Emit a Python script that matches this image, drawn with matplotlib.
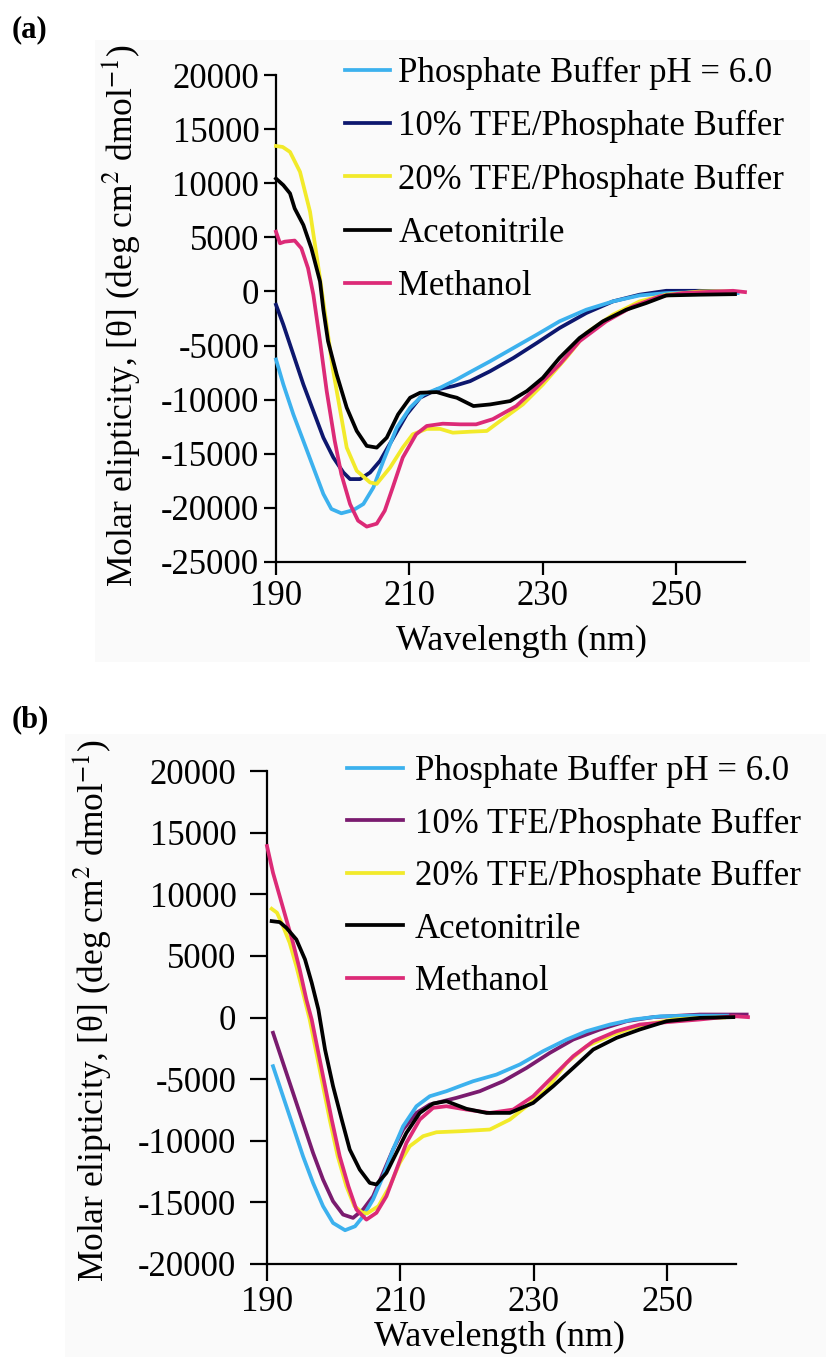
import matplotlib
matplotlib.use("Agg")
import matplotlib.pyplot as plt
from matplotlib.patches import Rectangle

plt.rcParams['font.family'] = ['Liberation Serif', 'DejaVu Serif']
plt.rcParams['mathtext.fontset'] = 'stix'
plt.rcParams['axes.unicode_minus'] = False

# ---------------- panel (a) data ----------------
wl_a_buffer = [190, 191.1, 192.6, 194.1, 195.6, 197.1, 198.3, 199.8, 201.6, 203.1, 204.6, 206.1,
               208.1, 210.1, 212.1, 214.6, 217.1, 219.1, 222.1, 225.6, 229.1, 232.5, 236.5, 240.5,
               244.5, 248.5, 253.5, 259.2]
cd_a_buffer = [-6290, -8590, -11360, -13810, -16270, -18720, -20100, -20500, -20200, -19640, -18110,
               -15650, -12590, -10740, -9520, -8900, -8130, -7450, -6450, -5220, -3990, -2760, -1690,
               -920, -370, -150, -60, -150]

wl_a_tfe10 = [190, 191.1, 192.6, 194.1, 195.6, 197.1, 198.6, 200.1, 201.1, 202.6, 204.1, 205.6,
              207.6, 209.6, 211.6, 214.1, 216.6, 219.1, 222.1, 225.6, 229.1, 232.5, 236.5, 240.5,
              244.5, 248.5, 253.5, 259]
cd_a_tfe10 = [-1230, -3070, -5830, -8590, -11050, -13510, -15350, -16730, -17340, -17340, -16730,
              -15650, -13510, -11360, -9820, -9060, -8750, -8290, -7370, -6140, -4760, -3380, -2000,
              -920, -300, 60, 60, -60]

wl_a_tfe20 = [190, 191.0, 192.1, 193.6, 195.1, 196.6, 198.5, 200.6, 202.1, 204.1, 205.1, 207.1,
              209.0, 210.5, 212.6, 214.6, 216.5, 219.1, 221.6, 223.6, 227.0, 230.0, 233.5, 236.5,
              240.5, 244.5, 248.5, 253.5, 258]
cd_a_tfe20 = [13440, 13350, 12890, 11050, 7370, 1200, -7090, -14430, -16570, -17650, -17780, -16270,
              -14430, -13200, -12700, -12700, -13050, -12960, -12890, -11970, -10440, -8600, -6140,
              -3840, -2150, -920, -300, 0, 0]

wl_a_acn = [190, 191.1, 192.1, 192.8, 194.1, 195.3, 196.6, 197.1, 197.8, 199.1, 200.6, 202.1, 203.6,
            205.1, 206.6, 208.3, 210.1, 211.6, 214.1, 216.1, 217.1, 219.6, 222.1, 225.1, 227.6, 230.0,
            232.5, 235.5, 239.0, 242.5, 245.5, 248.5, 253.5, 258.8]
cd_a_acn = [10430, 9820, 9060, 7670, 6140, 3990, 920, -1690, -4600, -7670, -10740, -12890, -14270,
            -14430, -13510, -11360, -9820, -9360, -9300, -9670, -9820, -10590, -10440, -10130, -9210,
            -7980, -6140, -4300, -2760, -1690, -1070, -370, -300, -250]

wl_a_meoh = [190, 190.6, 191.3, 192.8, 193.8, 194.8, 195.6, 196.6, 197.6, 198.8, 199.8, 201.1, 202.3,
             203.6, 205.1, 206.3, 207.5, 209.0, 211.0, 212.6, 215.0, 217.6, 220.0, 222.5, 226.0,
             229.0, 232.5, 235.5, 239.5, 243.5, 247.5, 251.0, 258.5, 260.3]
cd_a_meoh = [5520, 4450, 4600, 4700, 3990, 2150, -300, -4600, -9210, -13800, -16900, -19650, -21180,
             -21730, -21460, -20260, -18110, -15350, -13200, -12430, -12220, -12280, -12280, -11800,
             -10600, -8900, -6750, -4600, -2760, -1380, -460, -150, 60, -60]

# ---------------- panel (b) data ----------------
wl_b_buffer = [190.9, 192.4, 193.9, 195.4, 196.9, 198.4, 199.9, 201.7, 203.2, 204.4, 205.9, 207.4,
               208.9, 210.4, 212.4, 214.4, 216.9, 218.9, 220.9, 224.4, 227.9, 231.4, 234.9, 237.9,
               241.4, 244.9, 249, 254, 259]
cd_b_buffer = [-3950, -6390, -8820, -11260, -13420, -15310, -16670, -17260, -16940, -16130, -14770,
               -12880, -10710, -8820, -7200, -6390, -5980, -5570, -5170, -4630, -3810, -2730, -1790,
               -1110, -570, -160, 100, 150, 150]

wl_b_tfe10 = [190.9, 192.4, 193.9, 195.4, 196.9, 198.4, 199.9, 201.4, 202.9, 204.4, 205.9, 207.4,
              208.9, 210.4, 212.4, 214.4, 218.4, 221.9, 225.4, 228.9, 232.4, 235.9, 239.9, 243.9,
              247.9, 254.9, 261.9]
cd_b_tfe10 = [-1240, -3680, -6110, -8550, -10980, -13150, -14910, -15990, -16260, -15580, -14500,
              -12610, -10710, -9090, -7740, -7060, -6520, -5980, -5170, -4090, -2870, -1790, -970,
              -300, 30, 240, 240]

wl_b_tfe20 = [190.7, 191.5, 192.4, 193.4, 194.4, 195.4, 196.4, 197.4, 198.4, 199.4, 200.6, 201.9,
              203.1, 204.2, 205.0, 206.7, 208.4, 209.9, 211.4, 213.4, 215.4, 218.9, 223.4, 226.4,
              228.9, 231.9, 234.9, 237.9, 241.9, 245.9, 250.9, 254.9, 258.5]
cd_b_tfe20 = [8820, 8500, 7410, 6060, 4160, 2000, -160, -2870, -5570, -8280, -11260, -13690, -15300,
              -15800, -15900, -15310, -13690, -11790, -10440, -9630, -9310, -9230, -9090, -8280,
              -7200, -5840, -3680, -2330, -1380, -650, -160, -30, 0]

wl_b_acn = [190.7, 191.9, 192.9, 194.4, 195.7, 196.7, 197.7, 198.7, 199.9, 201.2, 202.4, 203.9, 205.4,
            206.4, 207.9, 209.4, 210.9, 212.9, 214.9, 216.9, 219.9, 222.9, 226.4, 229.9, 232.9, 235.9,
            238.9, 242.4, 245.9, 249.9, 254.9, 259.9]
cd_b_acn = [7820, 7740, 7280, 6330, 4710, 2820, 650, -2600, -5570, -8280, -10710, -12340, -13420,
            -13550, -12610, -10980, -9360, -7740, -6980, -6790, -7410, -7740, -7740, -6930, -5570,
            -4090, -2600, -1650, -970, -300, -30, 30]

wl_b_meoh = [190, 190.9, 191.9, 192.9, 193.9, 194.9, 195.9, 196.7, 197.7, 198.7, 199.7, 200.9, 202.2,
             203.4, 204.9, 206.4, 207.9, 209.4, 210.9, 212.9, 214.9, 216.9, 219.9, 223.4, 226.9,
             229.9, 232.9, 235.9, 238.9, 242.4, 245.9, 249.9, 254.9, 259.9, 262.1]
cd_b_meoh = [13910, 11740, 9850, 7950, 6060, 3900, 1460, -160, -2870, -5570, -8280, -11260, -13690,
             -15580, -16400, -15850, -14500, -12340, -10170, -8280, -7330, -7200, -7470, -7740,
             -7470, -6390, -4760, -3140, -1920, -1110, -570, -380, -160, 110, 30]

legend_labels = ['Phosphate Buffer pH = 6.0', '10% TFE/Phosphate Buffer',
                 '20% TFE/Phosphate Buffer', 'Acetonitrile', 'Methanol']
x_ticks = [190, 210, 230, 250]
y_ticks_a = list(range(-25000, 20001, 5000))
y_ticks_b = list(range(-20000, 20001, 5000))

C_BUFFER = '#3cb1ee'
C_TFE10_A = '#0d176e'
C_TFE10_B = '#7a1b6f'
C_TFE20 = '#f2ea2a'
C_ACN = '#000000'
C_MEOH = '#dc2a77'
BG = '#fafafa'

W, H = 826, 1357
fig = plt.figure(figsize=(W / 100, H / 100), dpi=100)


def fx(px):
    return px / W


def fy(py):
    return 1 - py / H


def box(x0, y0, x1, y1):
    return [fx(x0), fy(y1), fx(x1) - fx(x0), fy(y0) - fy(y1)]


# light panel backgrounds, kept behind the axes
fig.patches.append(Rectangle((fx(95), fy(662)), fx(810) - fx(95), fy(40) - fy(662),
                             transform=fig.transFigure, facecolor=BG, edgecolor='none', zorder=-5))
fig.patches.append(Rectangle((fx(65), fy(1357)), fx(826) - fx(65), fy(734) - fy(1357),
                             transform=fig.transFigure, facecolor=BG, edgecolor='none', zorder=-5))

FS = 25
LW = 2.7


def style_axes(ax, ylim, yticks, tick_len):
    ax.set_facecolor('none')
    ax.set_zorder(2)
    ax.set_xlim(190, 260.3)
    ax.set_ylim(*ylim)
    ax.set_xticks(x_ticks)
    ax.set_yticks(yticks)
    for s in ('top', 'right'):
        ax.spines[s].set_visible(False)
    for s in ('left', 'bottom'):
        ax.spines[s].set_linewidth(1.6)
    ax.tick_params(axis='both', direction='out', length=tick_len, width=1.6, labelsize=FS)
    ax.tick_params(axis='x', pad=4)
    ax.tick_params(axis='y', pad=3)


def draw_panel(ax, series, colors, legend_anchor, handlelength, textpad, spacing):
    order = [1, 0, 2, 4, 3]
    lines = [None] * 5
    for z, i in enumerate(order):
        wl, cd = series[i]
        ln, = ax.plot(wl, cd, color=colors[i], lw=LW, zorder=3 + z, clip_on=False,
                      solid_joinstyle='round')
        lines[i] = ln
    ax.legend(lines, legend_labels, loc='upper left', bbox_to_anchor=legend_anchor,
              bbox_transform=fig.transFigure, frameon=False, fontsize=FS,
              handlelength=handlelength, handletextpad=textpad, labelspacing=spacing,
              borderpad=0, borderaxespad=0)


# ---- (a) ----
ax_a = fig.add_axes(box(276, 75, 745, 562))
style_axes(ax_a, (-25000, 20000), y_ticks_a, 9)
draw_panel(ax_a,
           [(wl_a_buffer, cd_a_buffer), (wl_a_tfe10, cd_a_tfe10), (wl_a_tfe20, cd_a_tfe20),
            (wl_a_acn, cd_a_acn), (wl_a_meoh, cd_a_meoh)],
           [C_BUFFER, C_TFE10_A, C_TFE20, C_ACN, C_MEOH],
           (fx(345), fy(57)), 1.3, 0.24, 0.58)

# ---- (b) ----
ax_b = fig.add_axes(box(267, 771, 736, 1264))
style_axes(ax_b, (-20000, 20000), y_ticks_b, 12)
ax_b.tick_params(axis='y', pad=10)
draw_panel(ax_b,
           [(wl_b_buffer, cd_b_buffer), (wl_b_tfe10, cd_b_tfe10), (wl_b_tfe20, cd_b_tfe20),
            (wl_b_acn, cd_b_acn), (wl_b_meoh, cd_b_meoh)],
           [C_BUFFER, C_TFE10_B, C_TFE20, C_ACN, C_MEOH],
           (fx(347), fy(755)), 1.6, 0.36, 0.56)

ylabel = r'Molar elipticity, [θ] (deg cm$^{2}$ dmol$^{-1}$)'
fig.text(fx(122), fy(316), ylabel, rotation=90, ha='center', va='center', fontsize=25.5)
fig.text(fx(93), fy(1011), ylabel, rotation=90, ha='center', va='center', fontsize=25.5)
fig.text(fx(522), fy(641), 'Wavelength (nm)', ha='center', va='center', fontsize=26)
fig.text(fx(500), fy(1337), 'Wavelength (nm)', ha='center', va='center', fontsize=26)

fig.text(fx(12), fy(30), '(a)', ha='left', va='center', fontsize=22, fontweight='bold')
fig.text(fx(12), fy(720), '(b)', ha='left', va='center', fontsize=22, fontweight='bold')

fig.savefig('out.png', dpi=100, facecolor='white')
